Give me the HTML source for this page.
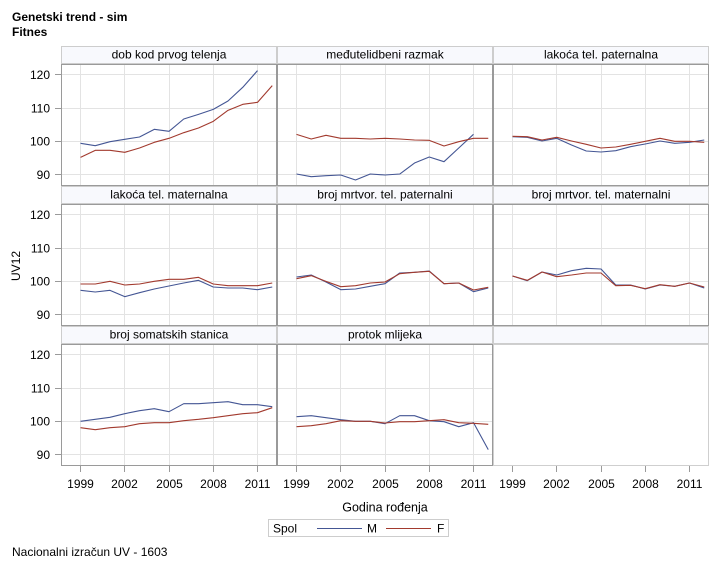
<!DOCTYPE html>
<html>
<head>
<meta charset="utf-8">
<style>
  html,body{margin:0;padding:0;background:#fff;}
  svg{display:block;font-family:"Liberation Sans",Arial,sans-serif;}
  .d{fill:none;stroke-width:1.1;vector-effect:non-scaling-stroke;stroke-linejoin:round;}
  .m{stroke:#445694;}
  .f{stroke:#A23A2E;}
</style>
</head>
<body>
<svg width="718" height="567" viewBox="0 0 718 567" xmlns="http://www.w3.org/2000/svg">
  <defs>
    <path id="grid" d="M0 28.5H216M0 62.5H216M0 95.5H216M0 128.5H216M19.5 18V139M63.5 18V139M108.5 18V139M152.5 18V139M196.5 18V139" stroke="#e3e3e3" stroke-width="1" fill="none"/>
    <rect id="hdr" x="0.5" y="0.5" width="215" height="17" fill="#f8f9fd" stroke="#cdcdcd"/>
    <rect id="frm" x="0.5" y="18.5" width="215" height="121" fill="none" stroke="#9a9a9a"/>
    <rect id="frmE" x="0.5" y="18.5" width="215" height="121" fill="none" stroke="#cfcfcf"/>
  </defs>

  <rect width="718" height="567" fill="#fff"/>

  <!-- Titles -->
  <text x="12" y="21" font-size="12" font-weight="bold" fill="#000">Genetski trend - sim</text>
  <text x="12" y="36" font-size="12" font-weight="bold" fill="#000">Fitnes</text>

  <!-- Headers -->
  <use href="#hdr" x="61" y="46"/>
  <use href="#hdr" x="277" y="46"/>
  <use href="#hdr" x="493" y="46"/>
  <use href="#hdr" x="61" y="186"/>
  <use href="#hdr" x="277" y="186"/>
  <use href="#hdr" x="493" y="186"/>
  <use href="#hdr" x="61" y="326"/>
  <use href="#hdr" x="277" y="326"/>
  <use href="#hdr" x="493" y="326"/>

  <g font-size="12" fill="#000" text-anchor="middle">
    <text x="169" y="58.5">dob kod prvog telenja</text>
    <text x="385" y="58.5">međutelidbeni razmak</text>
    <text x="601" y="58.5">lakoća tel. paternalna</text>
    <text x="169" y="198.5">lakoća tel. maternalna</text>
    <text x="385" y="198.5">broj mrtvor. tel. paternalni</text>
    <text x="601" y="198.5">broj mrtvor. tel. maternalni</text>
    <text x="169" y="338.5">broj somatskih stanica</text>
    <text x="385" y="338.5">protok mlijeka</text>
  </g>

  <!-- Grids -->
  <use href="#grid" x="61" y="46"/>
  <use href="#grid" x="277" y="46"/>
  <use href="#grid" x="493" y="46"/>
  <use href="#grid" x="61" y="186"/>
  <use href="#grid" x="277" y="186"/>
  <use href="#grid" x="493" y="186"/>
  <use href="#grid" x="61" y="326"/>
  <use href="#grid" x="277" y="326"/>

  <!-- Data -->
  <g transform="translate(80.5,474.67) scale(14.75,-3.3333)">
    <polyline class="d m" points="0,99.4 1,98.7 2,99.9 3,100.6 4,101.3 5,103.6 6,103.0 7,106.7 8,108.1 9,109.6 10,112.1 11,116.2 12,121.2"/>
    <polyline class="d f" points="0,95.2 1,97.3 2,97.3 3,96.7 4,98.0 5,99.7 6,100.9 7,102.6 8,104.0 9,106.0 10,109.3 11,111.1 12,111.7 13,116.7"/>
  </g>
  <g transform="translate(296.5,474.67) scale(14.75,-3.3333)">
    <polyline class="d m" points="0,90.2 1,89.4 2,89.7 3,89.9 4,88.4 5,90.2 6,89.9 7,90.2 8,93.5 9,95.3 10,93.9 11,98.0 12,102.1"/>
    <polyline class="d f" points="0,102.1 1,100.7 2,101.8 3,100.9 4,100.9 5,100.7 6,100.9 7,100.7 8,100.4 9,100.3 10,98.6 11,99.9 12,100.9 13,100.9"/>
  </g>
  <g transform="translate(512.5,474.67) scale(14.75,-3.3333)">
    <polyline class="d m" points="0,101.4 1,101.2 2,100.1 3,100.9 4,98.9 5,97.1 6,96.8 7,97.2 8,98.4 9,99.2 10,100.1 11,99.4 12,99.7 13,100.4"/>
    <polyline class="d f" points="0,101.5 1,101.4 2,100.4 3,101.2 4,100.1 5,99.1 6,98.0 7,98.3 8,99.1 9,100.0 10,100.9 11,100.0 12,100.0 13,99.7"/>
  </g>
  <g transform="translate(80.5,614.67) scale(14.75,-3.3333)">
    <polyline class="d m" points="0,97.3 1,96.8 2,97.3 3,95.4 4,96.6 5,97.7 6,98.6 7,99.5 8,100.3 9,98.3 10,98.0 11,98.0 12,97.5 13,98.3"/>
    <polyline class="d f" points="0,99.2 1,99.2 2,100.0 3,98.9 4,99.2 5,100.0 6,100.6 7,100.6 8,101.2 9,99.2 10,98.7 11,98.7 12,98.7 13,99.5"/>
  </g>
  <g transform="translate(296.5,614.67) scale(14.75,-3.3333)">
    <polyline class="d m" points="0,101.3 1,101.9 2,99.8 3,97.5 4,97.7 5,98.5 6,99.3 7,102.5 8,102.7 9,103.1 10,99.3 11,99.5 12,96.9 13,98.0"/>
    <polyline class="d f" points="0,100.8 1,101.7 2,100.0 3,98.4 4,98.7 5,99.5 6,99.8 7,102.3 8,102.7 9,103.0 10,99.3 11,99.5 12,97.4 13,98.2"/>
  </g>
  <g transform="translate(512.5,614.67) scale(14.75,-3.3333)">
    <polyline class="d m" points="0,101.6 1,100.2 2,102.8 3,101.9 4,103.2 5,103.9 6,103.7 7,98.9 8,98.9 9,97.7 10,98.9 11,98.5 12,99.5 13,98.0"/>
    <polyline class="d f" points="0,101.6 1,100.3 2,102.8 3,101.4 4,101.9 5,102.5 6,102.5 7,98.7 8,98.8 9,97.8 10,99.0 11,98.5 12,99.5 13,98.3"/>
  </g>
  <g transform="translate(80.5,754.67) scale(14.75,-3.3333)">
    <polyline class="d m" points="0,100.0 1,100.6 2,101.2 3,102.3 4,103.2 5,103.8 6,102.9 7,105.3 8,105.3 9,105.6 10,105.9 11,105.0 12,105.0 13,104.4"/>
    <polyline class="d f" points="0,98.1 1,97.5 2,98.1 3,98.4 4,99.3 5,99.6 6,99.6 7,100.2 8,100.6 9,101.1 10,101.7 11,102.3 12,102.6 13,104.1"/>
  </g>
  <g transform="translate(296.5,754.67) scale(14.75,-3.3333)">
    <polyline class="d m" points="0,101.4 1,101.7 2,101.1 3,100.5 4,100.0 5,100.0 6,99.3 7,101.7 8,101.7 9,100.2 10,99.9 11,98.4 12,99.6 13,91.5"/>
    <polyline class="d f" points="0,98.4 1,98.7 2,99.3 3,100.2 4,100.0 5,100.0 6,99.5 7,99.9 8,99.9 9,100.2 10,100.5 11,99.6 12,99.4 13,99.1"/>
  </g>

  <!-- Frames -->
  <use href="#frm" x="61" y="46"/>
  <use href="#frm" x="277" y="46"/>
  <use href="#frm" x="493" y="46"/>
  <use href="#frm" x="61" y="186"/>
  <use href="#frm" x="277" y="186"/>
  <use href="#frm" x="493" y="186"/>
  <use href="#frm" x="61" y="326"/>
  <use href="#frm" x="277" y="326"/>
  <use href="#frmE" x="493" y="326"/>

  <!-- Y ticks -->
  <path d="M55 74.5H61M55 108.5H61M55 141.5H61M55 174.5H61M55 214.5H61M55 248.5H61M55 281.5H61M55 314.5H61M55 354.5H61M55 388.5H61M55 421.5H61M55 454.5H61" stroke="#9a9a9a" stroke-width="1"/>
  <g font-size="12" fill="#000" text-anchor="end">
    <text x="50" y="79">120</text>
    <text x="50" y="112.5">110</text>
    <text x="50" y="145.5">100</text>
    <text x="50" y="179">90</text>
    <text x="50" y="219">120</text>
    <text x="50" y="252.5">110</text>
    <text x="50" y="285.5">100</text>
    <text x="50" y="319">90</text>
    <text x="50" y="359">120</text>
    <text x="50" y="392.5">110</text>
    <text x="50" y="425.5">100</text>
    <text x="50" y="459">90</text>
  </g>
  <text transform="translate(20,266) rotate(-90)" font-size="12" text-anchor="middle" fill="#000">UV12</text>

  <!-- X ticks -->
  <path d="M80.5 466V472M124.5 466V472M169.5 466V472M213.5 466V472M257.5 466V472M296.5 466V472M340.5 466V472M385.5 466V472M429.5 466V472M473.5 466V472M512.5 466V472M556.5 466V472M601.5 466V472M645.5 466V472M689.5 466V472" stroke="#9a9a9a" stroke-width="1"/>
  <g font-size="12" fill="#000" text-anchor="middle">
    <text x="80.5" y="488">1999</text>
    <text x="124.5" y="488">2002</text>
    <text x="169.5" y="488">2005</text>
    <text x="213.5" y="488">2008</text>
    <text x="257.5" y="488">2011</text>
    <text x="296.5" y="488">1999</text>
    <text x="340.5" y="488">2002</text>
    <text x="385.5" y="488">2005</text>
    <text x="429.5" y="488">2008</text>
    <text x="473.5" y="488">2011</text>
    <text x="512.5" y="488">1999</text>
    <text x="556.5" y="488">2002</text>
    <text x="601.5" y="488">2005</text>
    <text x="645.5" y="488">2008</text>
    <text x="689.5" y="488">2011</text>
  </g>
  <text x="385" y="511.5" font-size="12.5" text-anchor="middle" fill="#000">Godina rođenja</text>

  <!-- Legend -->
  <rect x="268.5" y="519.5" width="180" height="17" fill="#fff" stroke="#cdcdcd"/>
  <text x="273" y="532.5" font-size="12" fill="#000">Spol</text>
  <line x1="317" y1="528.5" x2="362" y2="528.5" stroke="#445694" stroke-width="1.1"/>
  <text x="367" y="532.5" font-size="12" fill="#000">M</text>
  <line x1="386" y1="528.5" x2="431" y2="528.5" stroke="#A23A2E" stroke-width="1.1"/>
  <text x="437" y="532.5" font-size="12" fill="#000">F</text>

  <!-- Footnote -->
  <text x="12" y="556" font-size="12" fill="#000">Nacionalni izračun UV - 1603</text>
</svg>
</body>
</html>
